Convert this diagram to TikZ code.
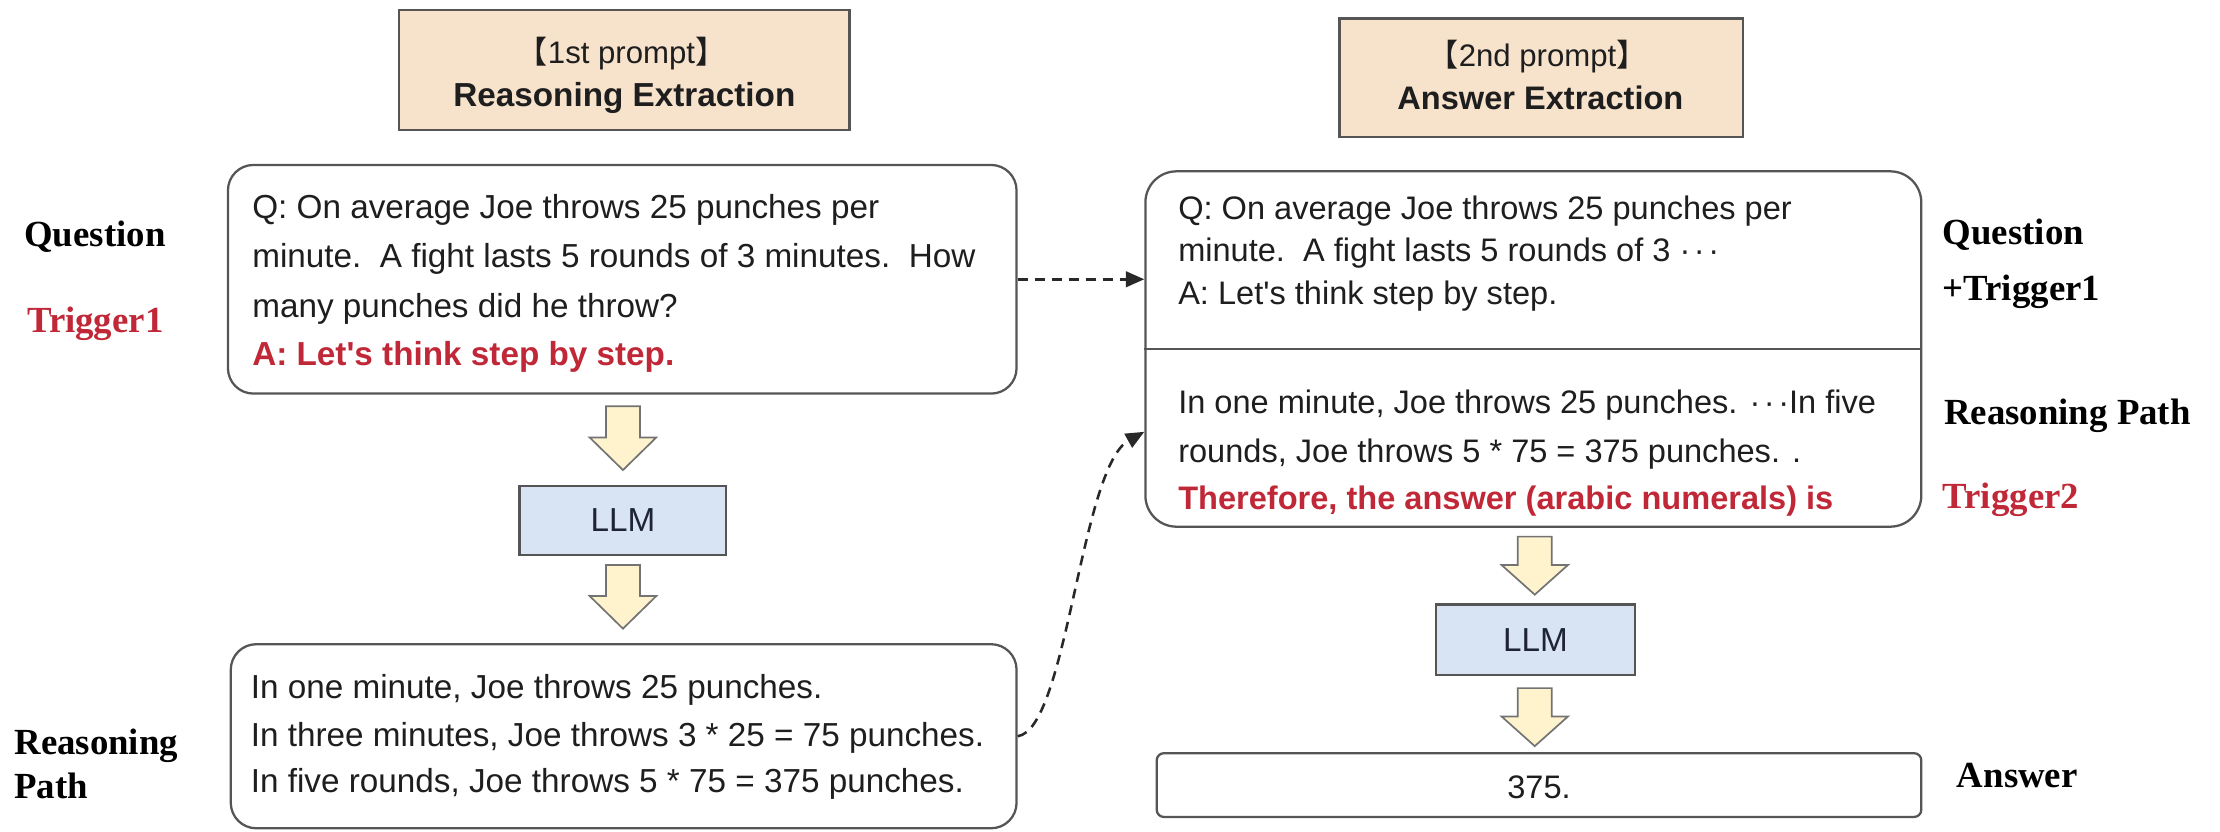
\documentclass[tikz,border=0pt]{standalone}
\usepackage{fontspec}
\setmainfont{Liberation Sans}
\newfontfamily\labfont{Liberation Serif}
\newfontfamily\cjkf{Noto Sans CJK SC}
\usetikzlibrary{arrows.meta}
\definecolor{tanfill}{RGB}{247,226,204}
\definecolor{llmfill}{RGB}{216,228,243}
\definecolor{arrfill}{RGB}{255,243,206}
\definecolor{bord}{RGB}{85,85,85}
\definecolor{arrbord}{RGB}{115,115,115}
\definecolor{redtxt}{RGB}{192,40,56}
\definecolor{txt}{RGB}{30,30,30}
\definecolor{llmtxt}{RGB}{30,36,52}
\newcommand{\blkarrow}[4]{%
  \draw[blockarrow] (#1-12,#2) -- (#1+12,#2) -- (#1+12,#3) -- (#1+23.5,#3) -- (#1,#4) -- (#1-23.5,#3) -- (#1-12,#3) -- cycle;}
\newcommand{\dotsx}{·\kern2.5pt·\kern2.5pt·}
\newcommand{\apo}{\textquotesingle}
\begin{document}
\begin{tikzpicture}[x=1pt,y=-1pt,
  boxstyle/.style={draw=bord, line width=1.6pt, inner sep=0pt},
  lineL/.style={anchor=base west, inner sep=0pt, font=\fontsize{23.5}{28}\selectfont, text=txt},
  lineR/.style={anchor=base west, inner sep=0pt, font=\fontsize{23}{28}\selectfont, text=txt},
  redline/.style={text=redtxt, font=\bfseries\fontsize{23}{28}\selectfont},
  lab/.style={anchor=base west, inner sep=0pt, font=\labfont\bfseries\fontsize{26}{30}\selectfont, text=black},
  ptxt/.style={anchor=base, inner sep=0pt, font=\fontsize{22}{26}\selectfont, text=txt},
  ptxtb/.style={anchor=base, inner sep=0pt, font=\bfseries\fontsize{23}{28}\selectfont, text=txt},
  blockarrow/.style={draw=arrbord, fill=arrfill, line width=1.2pt, line join=miter},
  dasharrow/.style={draw={rgb,255:red,40;green,40;blue,40}, line width=1.8pt, dash pattern=on 7pt off 5pt, -{Triangle[length=13pt,width=11pt]}}
]
\useasboundingbox (0,0) rectangle (1568,587);

% prompt boxes
\node[boxstyle, fill=tanfill, minimum width=318pt, minimum height=85pt] (p1) at (441,49.5) {};
\node[ptxt] (p1a) at (439,45) {{\cjkf 【}1st prompt{\cjkf 】}};
\node[ptxtb, font=\bfseries\fontsize{23.5}{28}\selectfont] (p1b) at (441,75) {Reasoning Extraction};

\node[boxstyle, fill=tanfill, minimum width=285pt, minimum height=84pt] (p2) at (1088.5,55) {};
\node[ptxt] (p2a) at (1086,47) {{\cjkf 【}2nd prompt{\cjkf 】}};
\node[ptxtb] (p2b) at (1088,77) {Answer Extraction};

% left question box
\node[boxstyle, rounded corners=18pt, minimum width=557pt, minimum height=161.5pt] (q1) at (439.5,197.25) {};
\node[lineL] (q1l1) at (178,154) {Q: On average Joe throws 25 punches per};
\node[lineL] (q1l2) at (178,189) {minute.\ \ A fight lasts 5 rounds of 3 minutes.\ \ How};
\node[lineL] (q1l3) at (178,224) {many punches did he throw?};
\node[lineL, redline, font=\bfseries\fontsize{23.5}{28}\selectfont] (q1l4) at (178,258) {A: Let\apo s think step by step.};

\node[lab] (lq) at (17,174) {Question};
\node[lab, text=redtxt] (lt1) at (19,235) {Trigger1};

% left LLM
\blkarrow{440}{287}{309}{332}
\node[boxstyle, fill=llmfill, minimum width=146pt, minimum height=49pt, font=\fontsize{23.5}{28}\selectfont, text=llmtxt] (llm1) at (440,367.5) {LLM};
\blkarrow{440}{399}{421}{444}

% left reasoning box
\node[boxstyle, rounded corners=18pt, minimum width=555pt, minimum height=130pt] (r1) at (440.5,520) {};
\node[lineL] (r1l1) at (177,493) {In one minute, Joe throws 25 punches.};
\node[lineL] (r1l2) at (177,527) {In three minutes, Joe throws 3 * 25 = 75 punches.};
\node[lineL] (r1l3) at (177,560) {In five rounds, Joe throws 5 * 75 = 375 punches.};

\node[lab] (lr1) at (10,533) {Reasoning};
\node[lab] (lr2) at (10,564) {Path};

% right combined box
\node[boxstyle, rounded corners=22pt, minimum width=548pt, minimum height=251pt] (q2) at (1083,246.5) {};
\draw[draw=bord, line width=1.6pt] (q2.west) -- (q2.east);
\node[lineR] (q2l1) at (832,155) {Q: On average Joe throws 25 punches per};
\node[lineR] (q2l2) at (832,185) {minute.\ \ A fight lasts 5 rounds of 3 \dotsx};
\node[lineR] (q2l3) at (832,215) {A: Let\apo s think step by step.};
\node[lineR] (q2l4) at (832,292) {In one minute, Joe throws 25 punches. \dotsx In five};
\node[lineR] (q2l5) at (832,327) {rounds, Joe throws 5 * 75 = 375 punches. .};
\node[lineR, redline] (q2l6) at (832,360) {Therefore, the answer (arabic numerals) is};

\node[lab] (rq) at (1372,173) {Question};
\node[lab] (rt1) at (1372,212) {+Trigger1};
\node[lab] (rrp) at (1373,300) {Reasoning Path};
\node[lab, text=redtxt] (rt2) at (1372,359) {Trigger2};

% right LLM
\blkarrow{1084}{379}{399}{420}
\node[boxstyle, fill=llmfill, minimum width=141pt, minimum height=50pt, font=\fontsize{23.5}{28}\selectfont, text=llmtxt] (llm2) at (1084.5,452) {LLM};
\blkarrow{1084}{486}{506}{527}

% answer
\node[boxstyle, rounded corners=5pt, minimum width=540pt, minimum height=45pt] (ans) at (1087,554.5) {};
\node[lineR, anchor=base] (anst) at (1087,564) {375.};
\node[lab] (la) at (1382,556) {Answer};

% dashed connectors
\draw[dasharrow] (q1.east) -- (q1.east -| q2.west);
\coordinate (tipc) at ([yshift=-58.5pt]q2.west);
\draw[dasharrow] (r1.east) .. controls +(35,-5) and +(-45,25) .. (tipc);
\end{tikzpicture}
\end{document}
